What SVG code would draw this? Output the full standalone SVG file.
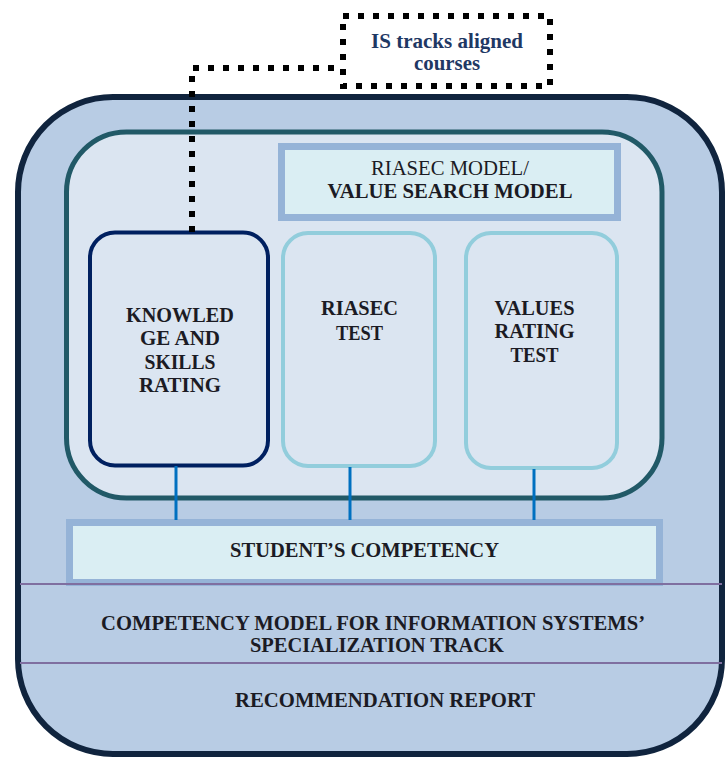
<svg xmlns="http://www.w3.org/2000/svg" width="725" height="759" viewBox="0 0 725 759">
  <style>
    .t { font-family: "Liberation Serif", "Times New Roman", serif; font-size: 21.5px; fill: #1b1b24; text-anchor: middle; }
    .b { font-weight: bold; }
    .panel { fill: #daeef3; stroke: #95b3d7; stroke-width: 7; }
    .test { fill: #dbe5f1; stroke: #92cddc; stroke-width: 4; }
    .link { stroke: #0070c0; stroke-width: 3; fill: none; }
    .divider { stroke: #7f6fa0; stroke-width: 2; }
    .dots { fill: none; stroke: #000; stroke-width: 6; stroke-dasharray: 6 9; }
  </style>

  <!-- outer framework container -->
  <g id="framework">
    <rect x="18" y="97" width="704" height="657" rx="95" fill="#b8cce4" stroke="#10243e" stroke-width="6"/>
  </g>

  <!-- inner assessment container -->
  <g id="assessment">
    <rect x="66.5" y="132" width="595.5" height="366" rx="60" fill="#dbe5f1" stroke="#215967" stroke-width="5"/>
  </g>

  <g id="riasec-model">
    <rect class="panel" x="281.5" y="146.5" width="336" height="71"/>
    <text class="t" x="450" y="175" textLength="158" lengthAdjust="spacingAndGlyphs">RIASEC MODEL/</text>
    <text class="t b" x="450" y="198" textLength="245" lengthAdjust="spacingAndGlyphs">VALUE SEARCH MODEL</text>
  </g>

  <g id="knowledge-skills">
    <rect x="90" y="232.5" width="178" height="233" rx="25" fill="#dbe5f1" stroke="#002060" stroke-width="4"/>
    <text class="t b" x="180" y="322" textLength="108" lengthAdjust="spacingAndGlyphs">KNOWLED</text>
    <text class="t b" x="180" y="345" textLength="80" lengthAdjust="spacingAndGlyphs">GE AND</text>
    <text class="t b" x="180" y="369" textLength="71" lengthAdjust="spacingAndGlyphs">SKILLS</text>
    <text class="t b" x="180" y="392" textLength="82" lengthAdjust="spacingAndGlyphs">RATING</text>
  </g>

  <g id="riasec-test">
    <rect class="test" x="283" y="233" width="152" height="233" rx="25"/>
    <text class="t b" x="359.5" y="315" textLength="77" lengthAdjust="spacingAndGlyphs">RIASEC</text>
    <text class="t b" x="359.5" y="340" textLength="47" lengthAdjust="spacingAndGlyphs">TEST</text>
  </g>

  <g id="values-test">
    <rect class="test" x="466" y="233" width="151" height="235" rx="25"/>
    <text class="t b" x="534.5" y="315" textLength="80" lengthAdjust="spacingAndGlyphs">VALUES</text>
    <text class="t b" x="534.5" y="338" textLength="80" lengthAdjust="spacingAndGlyphs">RATING</text>
    <text class="t b" x="534.5" y="362" textLength="48" lengthAdjust="spacingAndGlyphs">TEST</text>
  </g>

  <g id="student-competency">
    <rect class="panel" x="69.5" y="522.5" width="590" height="60"/>
    <text class="t b" x="364.5" y="557" textLength="269" lengthAdjust="spacingAndGlyphs">STUDENT’S COMPETENCY</text>
  </g>

  <g id="competency-model">
    <line class="divider" x1="20" y1="584" x2="722" y2="584"/>
    <text class="t b" x="373" y="630" textLength="544" lengthAdjust="spacingAndGlyphs">COMPETENCY MODEL FOR INFORMATION SYSTEMS’</text>
    <text class="t b" x="377" y="652" textLength="254" lengthAdjust="spacingAndGlyphs">SPECIALIZATION TRACK</text>
  </g>

  <g id="recommendation-report">
    <line class="divider" x1="20" y1="663" x2="722" y2="663"/>
    <text class="t b" x="385" y="707" textLength="300" lengthAdjust="spacingAndGlyphs">RECOMMENDATION REPORT</text>
  </g>

  <g id="is-tracks">
    <rect class="dots" x="343" y="16" width="207" height="70"/>
    <text class="t b" x="447" y="48" style="fill:#1f3864" textLength="152" lengthAdjust="spacingAndGlyphs">IS tracks aligned</text>
    <text class="t b" x="447" y="70" style="fill:#1f3864" textLength="66" lengthAdjust="spacingAndGlyphs">courses</text>
  </g>

  <!-- connectors -->
  <g id="connectors">
    <line class="link" x1="176" y1="466" x2="176" y2="520"/>
    <line class="link" x1="350" y1="467" x2="350" y2="520"/>
    <line class="link" x1="534" y1="469" x2="534" y2="520"/>
    <path class="dots" d="M192 232 V68 H343"/>
  </g>
</svg>
